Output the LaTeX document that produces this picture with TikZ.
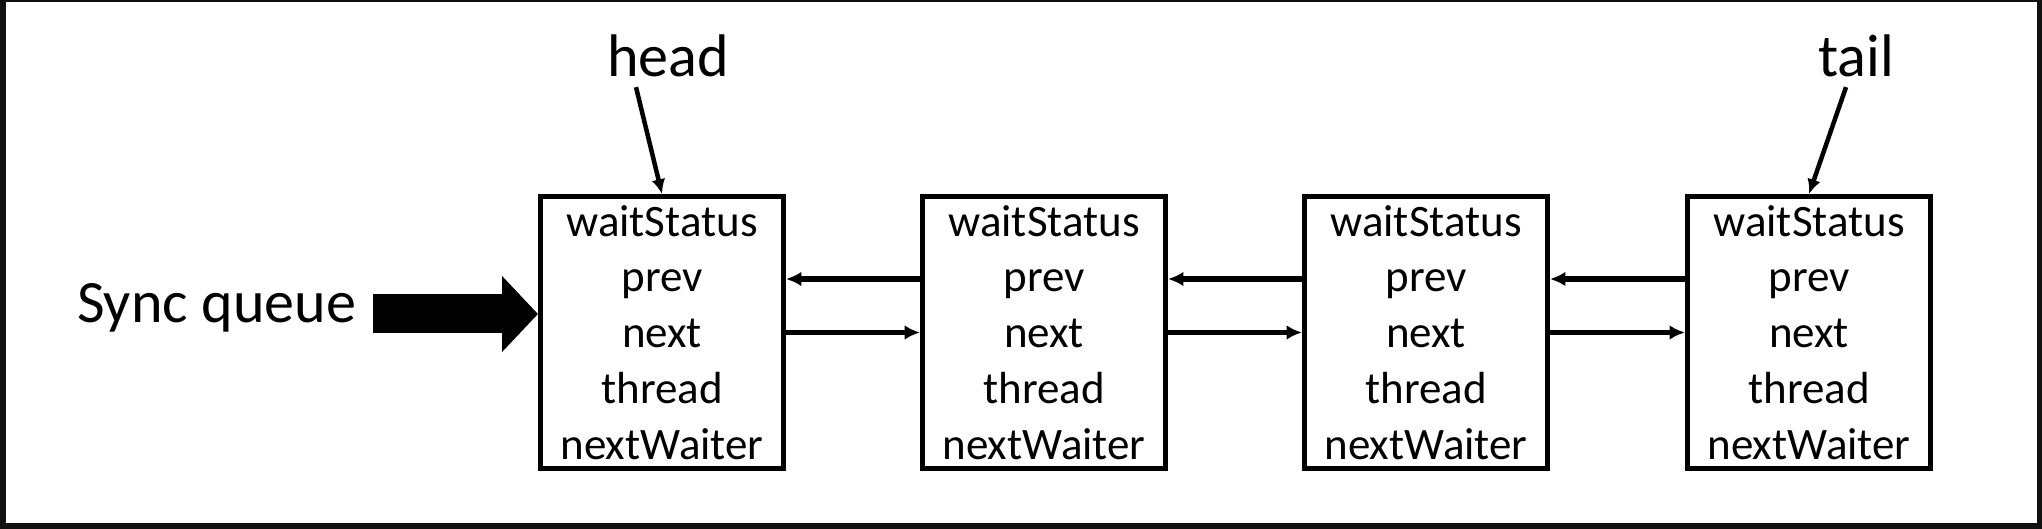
\documentclass[tikz,border=0pt]{standalone}
\usepackage{fontspec}
\setmainfont{Carlito}
\usetikzlibrary{arrows.meta}

\definecolor{framegray}{HTML}{111111}

\tikzset{
  nodebox/.style={draw, line width=0.05cm, minimum width=2.43cm, minimum height=2.72cm,
    inner sep=0pt, align=center, font=\fontsize{12.8}{15.9}\selectfont},
  biglabel/.style={inner sep=0pt, font=\fontsize{17.1}{20}\selectfont},
  link/.style={line width=0.055cm, -{Latex[length=4.4pt,width=4.2pt]}},
  pointer/.style={line width=0.045cm, -{Latex[length=4.2pt,width=3.9pt]}},
  bigarrow/.style={line width=0.39cm, -{Triangle[length=0.36cm,width=0.74cm]}}
}

\begin{document}
\begin{tikzpicture}

  % frame
  \useasboundingbox (0,0) rectangle (20.42,-5.29);
  \fill[framegray] (0,0) rectangle (20.42,-5.29);
  \fill[white] (0.06,-0.02) rectangle (20.37,-5.23);

  % queue nodes
  \node[nodebox] (n1) at (6.62,-3.325) {waitStatus\\prev\\next\\thread\\nextWaiter};
  \node[nodebox] (n2) at (10.44,-3.325) {waitStatus\\prev\\next\\thread\\nextWaiter};
  \node[nodebox] (n3) at (14.26,-3.325) {waitStatus\\prev\\next\\thread\\nextWaiter};
  \node[nodebox] (n4) at (18.09,-3.325) {waitStatus\\prev\\next\\thread\\nextWaiter};

  % prev links
  \draw[link] ([yshift=0.535cm]n2.west) -- ([yshift=0.535cm]n1.east);
  \draw[link] ([yshift=0.535cm]n3.west) -- ([yshift=0.535cm]n2.east);
  \draw[link] ([yshift=0.535cm]n4.west) -- ([yshift=0.535cm]n3.east);

  % next links
  \draw[link] (n1.east) -- (n2.west);
  \draw[link] (n2.east) -- (n3.west);
  \draw[link] (n3.east) -- (n4.west);

  % head and tail
  \node[biglabel, anchor=base] (head) at (6.68,-0.77) {head};
  \node[biglabel, anchor=base] (tail) at (18.56,-0.77) {tail};
  \draw[pointer] ([xshift=-0.32cm, yshift=-0.09cm]head.south) -- (n1.north);
  \draw[pointer] ([xshift=-0.10cm, yshift=-0.09cm]tail.south) -- (n4.north);

  % entry
  \node[biglabel, anchor=base east] (sync) at (3.57,-3.23) {Sync queue};
  \coordinate (qin) at ([yshift=0.185cm]n1.west);
  \draw[bigarrow, shorten <=0.16cm] (sync.east |- qin) -- (qin);

\end{tikzpicture}
\end{document}
